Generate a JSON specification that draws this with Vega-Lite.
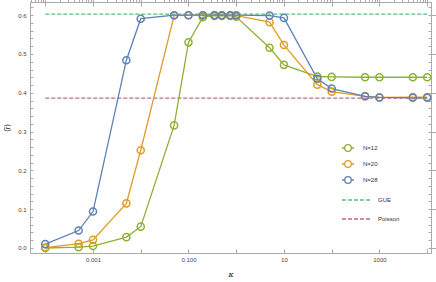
{
  "$schema": "https://vega.github.io/schema/vega-lite/v6.json",
  "width": 401,
  "height": 251,
  "autosize": "none",
  "padding": {"left": 30, "top": 2, "right": 5, "bottom": 29},
  "background": "white",
  "config": {
    "view": {"stroke": null},
    "font": "Liberation Sans",
    "axis": {"domainColor": "#aaaaaa", "tickColor": "#aaaaaa", "labelColor": "#444444", "labelFontSize": 6, "labelFont": "Liberation Sans", "grid": false, "titleFontWeight": "normal", "titleColor": "#222222"},
    "legend": {"labelFontSize": 6, "labelColor": "#333333", "labelFont": "Liberation Sans", "padding": 0}
  },
  "datasets": {
    "series": [
      {"N": "N=12", "k": 0.0001, "r": 0.000}, {"N": "N=12", "k": 0.0005, "r": 0.002}, {"N": "N=12", "k": 0.001, "r": 0.005},
      {"N": "N=12", "k": 0.005, "r": 0.028}, {"N": "N=12", "k": 0.01, "r": 0.055}, {"N": "N=12", "k": 0.05, "r": 0.316},
      {"N": "N=12", "k": 0.1, "r": 0.530}, {"N": "N=12", "k": 0.2, "r": 0.595}, {"N": "N=12", "k": 0.35, "r": 0.598},
      {"N": "N=12", "k": 0.5, "r": 0.598}, {"N": "N=12", "k": 0.75, "r": 0.598}, {"N": "N=12", "k": 1, "r": 0.596},
      {"N": "N=12", "k": 5, "r": 0.516}, {"N": "N=12", "k": 10, "r": 0.472}, {"N": "N=12", "k": 50, "r": 0.442},
      {"N": "N=12", "k": 100, "r": 0.441}, {"N": "N=12", "k": 500, "r": 0.440}, {"N": "N=12", "k": 1000, "r": 0.440},
      {"N": "N=12", "k": 5000, "r": 0.440}, {"N": "N=12", "k": 10000, "r": 0.440},
      {"N": "N=20", "k": 0.0001, "r": 0.001}, {"N": "N=20", "k": 0.0005, "r": 0.011}, {"N": "N=20", "k": 0.001, "r": 0.021},
      {"N": "N=20", "k": 0.005, "r": 0.115}, {"N": "N=20", "k": 0.01, "r": 0.252}, {"N": "N=20", "k": 0.05, "r": 0.599},
      {"N": "N=20", "k": 0.1, "r": 0.600}, {"N": "N=20", "k": 0.2, "r": 0.600}, {"N": "N=20", "k": 0.35, "r": 0.600},
      {"N": "N=20", "k": 0.5, "r": 0.600}, {"N": "N=20", "k": 0.75, "r": 0.600}, {"N": "N=20", "k": 1, "r": 0.599},
      {"N": "N=20", "k": 5, "r": 0.582}, {"N": "N=20", "k": 10, "r": 0.523}, {"N": "N=20", "k": 50, "r": 0.421},
      {"N": "N=20", "k": 100, "r": 0.403}, {"N": "N=20", "k": 500, "r": 0.391}, {"N": "N=20", "k": 1000, "r": 0.388},
      {"N": "N=20", "k": 5000, "r": 0.389}, {"N": "N=20", "k": 10000, "r": 0.389},
      {"N": "N=28", "k": 0.0001, "r": 0.010}, {"N": "N=28", "k": 0.0005, "r": 0.045}, {"N": "N=28", "k": 0.001, "r": 0.094},
      {"N": "N=28", "k": 0.005, "r": 0.484}, {"N": "N=28", "k": 0.01, "r": 0.591}, {"N": "N=28", "k": 0.05, "r": 0.600},
      {"N": "N=28", "k": 0.1, "r": 0.600}, {"N": "N=28", "k": 0.2, "r": 0.600}, {"N": "N=28", "k": 0.35, "r": 0.600},
      {"N": "N=28", "k": 0.5, "r": 0.600}, {"N": "N=28", "k": 0.75, "r": 0.600}, {"N": "N=28", "k": 1, "r": 0.600},
      {"N": "N=28", "k": 5, "r": 0.599}, {"N": "N=28", "k": 10, "r": 0.593}, {"N": "N=28", "k": 50, "r": 0.436},
      {"N": "N=28", "k": 100, "r": 0.411}, {"N": "N=28", "k": 500, "r": 0.391}, {"N": "N=28", "k": 1000, "r": 0.388},
      {"N": "N=28", "k": 5000, "r": 0.387}, {"N": "N=28", "k": 10000, "r": 0.387}
    ],
    "refs": [
      {"ref": "GUE", "k1": 0.0001, "k2": 10000, "r": 0.6027},
      {"ref": "Poisson", "k1": 0.0001, "k2": 10000, "r": 0.3863}
    ]
  },
  "layer": [
    {
      "data": {"name": "refs"},
      "mark": {"type": "rule", "strokeWidth": 1.4, "strokeDash": [4, 2]},
      "encoding": {
        "x": {"field": "k1", "type": "quantitative",
          "scale": {"type": "log", "domain": [0.0000479, 12020], "nice": false},
          "axis": {"orient": "bottom", "values": [0.0001, 0.001, 0.01, 0.1, 1, 10, 100, 1000, 10000],
            "labelExpr": "round(log(datum.value)/LN10) == -3 ? '0.001' : round(log(datum.value)/LN10) == -1 ? '0.100' : round(log(datum.value)/LN10) == 1 ? '10' : round(log(datum.value)/LN10) == 3 ? '1000' : ''",
            "tickSize": -4, "labelPadding": 7, "labelOverlap": false, "labelFlush": false,
            "title": "κ", "titleFontStyle": "italic", "titleFontSize": 8, "titleFont": "DejaVu Serif", "titlePadding": 8}},
        "x2": {"field": "k2"},
        "y": {"field": "r", "type": "quantitative",
          "scale": {"domain": [-0.0129, 0.634], "nice": false, "zero": false},
          "axis": {"orient": "left", "values": [0, 0.02, 0.04, 0.06, 0.08, 0.1, 0.12, 0.14, 0.16, 0.18, 0.2, 0.22, 0.24, 0.26, 0.28, 0.3, 0.32, 0.34, 0.36, 0.38, 0.4, 0.42, 0.44, 0.46, 0.48, 0.5, 0.52, 0.54, 0.56, 0.58, 0.6, 0.62],
            "labelExpr": "abs(round(datum.value*10) - datum.value*10) < 0.001 ? format(datum.value, '.1f') : ''",
            "tickSize": -3, "labelPadding": 7, "labelOverlap": false, "labelFlush": false,
            "title": "⟨r̃⟩", "titleFontSize": 8, "titlePadding": 6}},
        "stroke": {"field": "ref", "type": "nominal",
          "scale": {"domain": ["GUE", "Poisson"], "range": ["#55bf78", "#c9648f"]},
          "legend": {"title": null, "orient": "none", "legendX": 311, "legendY": 182,
            "symbolType": "stroke", "symbolSize": 900, "symbolDash": [4, 2], "symbolStrokeWidth": 1.4,
            "labelOffset": 5, "rowPadding": -6}}
      }
    },
    {
      "data": {"name": "series"},
      "mark": {"type": "line", "strokeWidth": 1.3},
      "encoding": {
        "x": {"field": "k", "type": "quantitative"},
        "y": {"field": "r", "type": "quantitative"},
        "color": {"field": "N", "type": "nominal",
          "scale": {"domain": ["N=12", "N=20", "N=28"], "range": ["#8fb032", "#e19c24", "#5e81b5"]},
          "legend": {"title": null, "orient": "none", "legendX": 311, "legendY": 139,
            "symbolType": "M-1,0H-0.55M0.55,0H1M-0.55,0A0.55,0.55,0,1,1,0.55,0A0.55,0.55,0,1,1,-0.55,0",
            "symbolSize": 144, "symbolStrokeWidth": 1.3, "symbolFillColor": "transparent",
            "labelOffset": 8, "rowPadding": 3}}
      }
    },
    {
      "data": {"name": "series"},
      "mark": {"type": "point", "filled": false, "size": 50, "strokeWidth": 1.5, "opacity": 1},
      "encoding": {
        "x": {"field": "k", "type": "quantitative",
          "axis": {"orient": "top", "values": [0.0001, 0.001, 0.01, 0.1, 1, 10, 100, 1000, 10000], "labels": false, "tickSize": -4, "title": null}},
        "y": {"field": "r", "type": "quantitative",
          "axis": {"orient": "right", "values": [0, 0.02, 0.04, 0.06, 0.08, 0.1, 0.12, 0.14, 0.16, 0.18, 0.2, 0.22, 0.24, 0.26, 0.28, 0.3, 0.32, 0.34, 0.36, 0.38, 0.4, 0.42, 0.44, 0.46, 0.48, 0.5, 0.52, 0.54, 0.56, 0.58, 0.6, 0.62], "labels": false, "tickSize": -3, "title": null}},
        "color": {"field": "N", "type": "nominal", "legend": null}
      }
    }
  ],
  "resolve": {"axis": {"x": "independent", "y": "independent"}}
}
